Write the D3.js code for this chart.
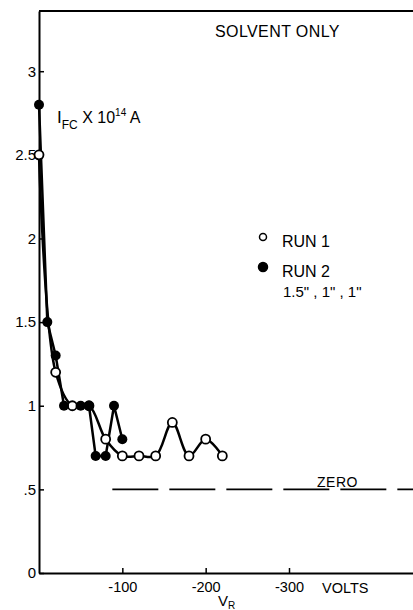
<!DOCTYPE html>
<html>
<head>
<meta charset="utf-8">
<script src="https://cdn.jsdelivr.net/npm/d3@7"></script>
<style>
	body { margin: 0; background: #fff; }
	text { font-family: "Liberation Sans", Arial, sans-serif; fill: #000; }
</style>
</head>
<body>
<div id="chart"></div>
<script>
// data
const run1V = [0, -20, -40, -60, -80, -100, -120, -140, -160, -180, -200, -220];
const run1I = [2.5, 1.2, 1.0, 1.0, 0.8, 0.7, 0.7, 0.7, 0.9, 0.7, 0.8, 0.7];

const run2V = [0, -10, -20, -30, -50, -60, -68, -80, -90, -100];
const run2I = [2.8, 1.5, 1.3, 1.0, 1.0, 1.0, 0.7, 0.7, 1.0, 0.8];

const zeroV = [-88, -450];
const zeroI = [0.5, 0.5];

const yTicks = [0, 0.5, 1, 1.5, 2, 2.5, 3];
const yTickLabels = ["0", ".5", "1", "1.5", "2", "2.5", "3"];
const xTicks = [-100, -200, -300];
const xTickLabels = ["-100", "-200", "-300"];

const legendLabels = ["RUN 1", "RUN 2"];

let width = 413;
let height = 610;

let svg = d3.select("#chart")
	.append("svg")
	.attr("width", width)
	.attr("height", height);

let x = d3.scaleLinear()
	.domain([0, -450])
	.range([39, 414]);

let y = d3.scaleLinear()
	.domain([0, 3.36])
	.range([573, 11]);

// axes, ticks point inward
let xAxis = d3.axisBottom(x)
	.tickValues(xTicks)
	.tickFormat((d, i) => xTickLabels[i])
	.tickSizeInner(-5)
	.tickSizeOuter(0)
	.tickPadding(9);

let yAxis = d3.axisLeft(y)
	.tickValues(yTicks)
	.tickFormat((d, i) => yTickLabels[i])
	.tickSizeInner(-5)
	.tickSizeOuter(0)
	.tickPadding(3);

let gx = svg.append("g")
	.attr("transform", `translate(0,${y(0)})`)
	.call(xAxis);

let gy = svg.append("g")
	.attr("transform", `translate(${x(0)},0)`)
	.call(yAxis);

[gx, gy].forEach(g => {
	g.select(".domain").attr("stroke-width", 2);
	g.selectAll(".tick line").attr("stroke-width", 1.5);
	g.selectAll(".tick text")
		.attr("font-size", 14.5)
		.attr("font-family", "Liberation Sans, Arial, sans-serif");
});
gy.selectAll(".tick text").attr("font-size", 15);

// top frame line
svg.append("line")
	.attr("x1", x(0))
	.attr("x2", width)
	.attr("y1", y.range()[1])
	.attr("y2", y.range()[1])
	.attr("stroke", "black")
	.attr("stroke-width", 2);

// zero reference line
let zeroPts = zeroV.map((v, i) => [v, zeroI[i]]);
svg.append("path")
	.datum(zeroPts)
	.attr("d", d3.line().x(d => x(d[0])).y(d => y(d[1])))
	.attr("stroke", "black")
	.attr("stroke-width", 1.8)
	.attr("stroke-dasharray", "46,11")
	.attr("fill", "none");

svg.append("text")
	.attr("x", 317)
	.attr("y", 487)
	.attr("font-size", 14)
	.attr("letter-spacing", 0.5)
	.text("ZERO");

// data lines
let run1 = run1V.map((v, i) => [v, run1I[i]]);
let run2 = run2V.map((v, i) => [v, run2I[i]]);

svg.append("path")
	.datum(run1)
	.attr("d", d3.line().curve(d3.curveCatmullRom.alpha(0.5)).x(d => x(d[0])).y(d => y(d[1])))
	.attr("stroke", "black")
	.attr("stroke-width", 2.5)
	.attr("fill", "none");

svg.append("path")
	.datum(run2)
	.attr("d", d3.line().x(d => x(d[0])).y(d => y(d[1])))
	.attr("stroke", "black")
	.attr("stroke-width", 2.5)
	.attr("fill", "none");

svg.selectAll(".run1")
	.data(run1)
	.enter().append("circle")
	.attr("cx", d => x(d[0]))
	.attr("cy", d => y(d[1]))
	.attr("r", 4.5)
	.attr("fill", "white")
	.attr("stroke", "black")
	.attr("stroke-width", 1.8);

svg.selectAll(".run2")
	.data(run2)
	.enter().append("circle")
	.attr("cx", d => x(d[0]))
	.attr("cy", d => y(d[1]))
	.attr("r", 5)
	.attr("fill", "black");

// labels
svg.append("text")
	.attr("x", 215)
	.attr("y", 37)
	.attr("font-size", 16)
	.attr("letter-spacing", 0.4)
	.text("SOLVENT ONLY");

let ylab = svg.append("text")
	.attr("x", 57)
	.attr("y", 123)
	.attr("font-size", 16);
ylab.append("tspan").attr("font-size", 17).text("I");
ylab.append("tspan").attr("dy", 6).attr("font-size", 12).text("FC");
ylab.append("tspan").attr("dy", -6).text(" X 10");
ylab.append("tspan").attr("dy", -7).attr("font-size", 10).text("14");
ylab.append("tspan").attr("dy", 7).text(" A");

let xlab = svg.append("text")
	.attr("x", 218)
	.attr("y", 606)
	.attr("font-size", 15);
xlab.append("tspan").text("V");
xlab.append("tspan").attr("dy", 3).attr("font-size", 10).text("R");

svg.append("text")
	.attr("x", 322)
	.attr("y", 593)
	.attr("font-size", 14.5)
	.text("VOLTS");

// legend
legendLabels.forEach((lab, i) => {
	let cy = 241 + i * 30;
	svg.append("circle")
		.attr("cx", 263)
		.attr("cy", cy - 4)
		.attr("r", i == 0 ? 3.5 : 4.5)
		.attr("fill", i == 0 ? "white" : "black")
		.attr("stroke", "black")
		.attr("stroke-width", 1.5);
	svg.append("text")
		.attr("x", 282)
		.attr("y", cy + 6)
		.attr("font-size", 16)
		.text(lab);
});
svg.append("text")
	.attr("x", 283)
	.attr("y", 297)
	.attr("font-size", 15)
	.text("1.5\" , 1\" , 1\"");
</script>
</body>
</html>
